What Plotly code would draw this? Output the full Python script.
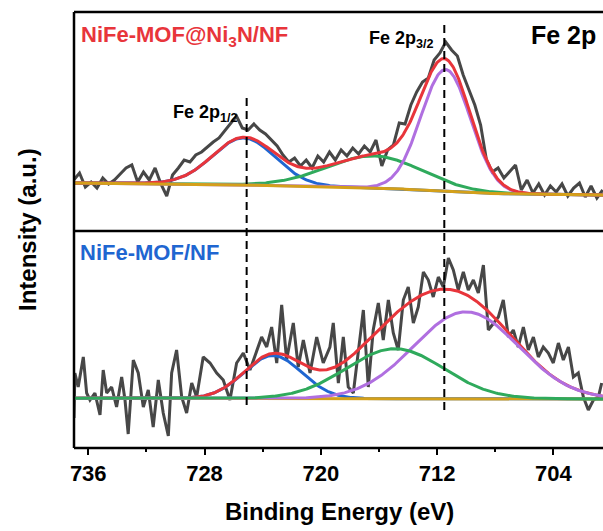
import numpy as np
import plotly.graph_objects as go

# ---------------- data ----------------
# Top panel: NiFe-MOF@Ni3N/NF  (intensity in a.u.)
top_energy = [737.0, 736.6, 736.2, 735.8, 735.4, 735.0, 734.6, 734.2, 733.8, 733.4,
              733.0, 732.6, 732.2, 731.8, 731.4, 731.0, 730.6, 730.2, 729.8, 729.4,
              729.0, 728.6, 728.2, 727.8, 727.4, 727.0, 726.6, 726.2, 725.8, 725.4,
              725.0, 724.6, 724.2, 723.8, 723.4, 723.0, 722.6, 722.2, 721.8, 721.4,
              721.0, 720.6, 720.2, 719.8, 719.4, 719.0, 718.6, 718.2, 717.8, 717.4,
              717.0, 716.6, 716.2, 715.8, 715.4, 715.0, 714.6, 714.2, 713.8, 713.4,
              713.0, 712.6, 712.2, 711.8, 711.4, 711.0, 710.6, 710.2, 709.8, 709.4,
              709.0, 708.6, 708.2, 707.8, 707.4, 707.0, 706.6, 706.2, 705.8, 705.4,
              705.0, 704.6, 704.2, 703.8, 703.4, 703.0, 702.6, 702.2, 701.8, 701.4,
              701.0, 700.6]
top_counts = [51, 58, 44, 49, 43, 53, 47, 51, 57, 63,
              66, 49, 59, 51, 63, 47, 35, 56, 63, 71,
              69, 76, 79, 84, 89, 93, 100, 107, 115, 103,
              101, 107, 101, 97, 91, 85, 76, 69, 73, 65,
              71, 63, 75, 69, 79, 71, 81, 75, 83, 77,
              85, 79, 91, 65, 81, 86, 108, 107, 126, 139,
              149, 153, 171, 178, 189, 181, 175, 156, 141, 126,
              106, 71, 59, 63, 53, 59, 66, 41, 51, 38,
              47, 36, 45, 39, 47, 35, 43, 48, 34, 45,
              33, 41]

# Bottom panel: NiFe-MOF/NF
bot_energy = [736.98, 736.92, 736.69, 736.34, 736.11, 735.88, 735.54, 735.19, 734.97, 734.73,
              734.39, 734.05, 733.70, 733.47, 733.25, 732.90, 732.56, 732.21, 731.87, 731.53,
              731.18, 730.84, 730.49, 730.26, 729.92, 729.57, 729.23, 728.88, 728.54, 728.09,
              727.62, 727.16, 726.71, 726.25, 725.79, 725.33, 724.87, 724.41, 724.07, 723.72,
              723.38, 723.03, 722.69, 722.35, 721.89, 721.55, 721.20, 720.74, 720.28, 719.83,
              719.37, 719.14, 718.79, 718.45, 718.11, 717.76, 717.42, 717.07, 716.73, 716.39,
              716.04, 715.70, 715.35, 715.01, 714.67, 714.32, 713.98, 713.63, 713.29, 712.94,
              712.60, 712.26, 711.91, 711.57, 711.22, 710.88, 710.54, 710.19, 709.85, 709.50,
              709.16, 708.81, 708.47, 708.13, 707.78, 707.44, 707.09, 706.75, 706.41, 706.06,
              705.72, 705.37, 705.03, 704.69, 704.34, 704.00, 703.65, 703.31, 702.96, 702.62,
              702.28, 701.93, 701.59, 701.24, 700.90, 700.67]
bot_counts = [30, 75, 61, 91, 55, 48, 55, 33, 78, 55,
              61, 41, 71, 48, 14, 88, 75, 41, 58, 21,
              68, 35, 12, 75, 98, 51, 35, 65, 51, 91,
              85, 75, 68, 48, 85, 95, 78, 98, 111, 101,
              121, 85, 143, 88, 125, 81, 108, 75, 111, 85,
              101, 125, 65, 111, 61, 55, 98, 138, 61, 118,
              145, 108, 148, 115, 98, 148, 161, 125, 141, 176,
              168, 151, 171, 161, 190, 178, 158, 176, 158, 168,
              155, 183, 118, 125, 131, 148, 111, 118, 101, 121,
              98, 111, 91, 101, 95, 85, 105, 88, 101, 71,
              75, 51, 38, 48, 51, 65]

# Fitted peak components: centre (eV), height (a.u.), sigma (eV)
peak_names = ["blue", "green", "purple"]
top_centers = [725.3, 716.3, 711.4]
top_heights = [47, 32, 122]
top_sigmas = [2.15, 3.3, 1.7]
bot_centers = [723.3, 714.9, 710.0]
bot_heights = [43, 50, 87]
bot_sigmas = [2.0, 3.35, 3.6]

# Background (Shirley-type) knots
top_bg_energy = [737.0, 730.0, 725.0, 720.0, 716.0, 713.0, 711.0, 709.0, 705.0, 700.5]
top_bg_counts = [48, 47.5, 46, 44.5, 43, 41, 39, 37.8, 36.7, 36]
bot_bg_energy = [737.0, 700.5]
bot_bg_counts = [49.7, 49.0]

marker_lines = [725.1, 711.5]
x_ticks = [736, 728, 720, 712, 704]
x_minor = [732, 724, 716, 708]

# ---------------- styling ----------------
C_RAW = "#474747"
C_RED = "#e8353b"
C_BLUE = "#1f66d1"
C_GREEN = "#2faa5c"
C_PURPLE = "#b06fe0"
C_GOLD = "#d4a01a"
comp_colors = {"blue": C_BLUE, "green": C_GREEN, "purple": C_PURPLE}
FONT = "Liberation Sans, Arial, sans-serif"

X0, X1 = 736.98, 700.58
grid = np.linspace(X1, X0, 600)[::-1]


def gauss(e, c, h, s):
    return h * np.exp(-(e - c) ** 2 / (2 * s ** 2))


fig = go.Figure()


def add_panel(xa, ya, e_raw, c_raw, centers, heights, sigmas, bg_e, bg_c, order):
    bg = np.interp(grid, bg_e[::-1], bg_c[::-1]) if bg_e[0] > bg_e[-1] else np.interp(grid, bg_e, bg_c)
    comps = {n: bg + gauss(grid, c, h, s) for n, c, h, s in zip(peak_names, centers, heights, sigmas)}
    total = bg + sum(gauss(grid, c, h, s) for c, h, s in zip(centers, heights, sigmas))
    fig.add_trace(go.Scatter(x=e_raw, y=c_raw, mode="lines", xaxis=xa, yaxis=ya,
                             line=dict(color=C_RAW, width=3), showlegend=False))
    for item in order:
        if item == "bg":
            fig.add_trace(go.Scatter(x=grid, y=bg, mode="lines", xaxis=xa, yaxis=ya,
                                     line=dict(color=C_GOLD, width=3), showlegend=False))
        elif item == "red":
            fig.add_trace(go.Scatter(x=grid, y=total, mode="lines", xaxis=xa, yaxis=ya,
                                     line=dict(color=C_RED, width=3), showlegend=False))
        else:
            fig.add_trace(go.Scatter(x=grid, y=comps[item], mode="lines", xaxis=xa, yaxis=ya,
                                     line=dict(color=comp_colors[item], width=3), showlegend=False))


add_panel("x2", "y2", top_energy, top_counts, top_centers, top_heights, top_sigmas,
          top_bg_energy, top_bg_counts, ["blue", "green", "purple", "red", "bg"])
add_panel("x", "y", bot_energy, bot_counts, bot_centers, bot_heights, bot_sigmas,
          bot_bg_energy, bot_bg_counts, ["blue", "bg", "red", "purple", "green"])

# layout geometry
H_TOP_PX, H_BOT_PX = 219, 217
split = H_BOT_PX / (H_TOP_PX + H_BOT_PX)
PLOT_H = 436.0
PLOT_W = 529.0


def py(p):
    return (448 - p) / PLOT_H


def px(p):
    return (p - 74) / PLOT_W


shapes = []
line_k = dict(color="black", width=2.5)
shapes.append(dict(type="line", xref="paper", yref="paper", x0=0, x1=0, y0=0, y1=1, line=line_k))
shapes.append(dict(type="line", xref="paper", yref="paper", x0=0, x1=1.01, y0=1, y1=1, line=line_k))
shapes.append(dict(type="line", xref="paper", yref="paper", x0=0, x1=1.01, y0=split, y1=split, line=line_k))
shapes.append(dict(type="line", xref="paper", yref="paper", x0=0, x1=1.01, y0=0, y1=0, line=line_k))
dash_spans = [(97, 405), (22, 410)]
for e, (a, b) in zip(marker_lines, dash_spans):
    shapes.append(dict(type="line", xref="x", yref="paper", x0=e, x1=e, y0=py(b), y1=py(a),
                       line=dict(color="black", width=2, dash="8px,5px")))

ann = []
bold = dict(family=FONT, weight="bold")
ann.append(dict(text="NiFe-MOF@Ni<sub>3</sub>N/NF", x=px(79), y=py(36), xref="paper", yref="paper",
                xanchor="left", yanchor="middle", showarrow=False,
                font=dict(size=22, color=C_RED, **bold)))
ann.append(dict(text="NiFe-MOF/NF", x=px(78), y=py(253), xref="paper", yref="paper",
                xanchor="left", yanchor="middle", showarrow=False,
                font=dict(size=22, color=C_BLUE, **bold)))
ann.append(dict(text="Fe 2p", x=px(598), y=py(35), xref="paper", yref="paper",
                xanchor="right", yanchor="middle", showarrow=False,
                font=dict(size=25, color="black", **bold)))
ann.append(dict(text="Fe 2p<sub>3/2</sub>", x=px(367), y=py(39), xref="paper", yref="paper",
                xanchor="left", yanchor="middle", showarrow=False,
                font=dict(size=18, color="black", **bold)))
ann.append(dict(text="Fe 2p<sub>1/2</sub>", x=px(171), y=py(113), xref="paper", yref="paper",
                xanchor="left", yanchor="middle", showarrow=False,
                font=dict(size=18, color="black", **bold)))
ann.append(dict(text="Intensity (a.u.)", x=px(27), y=0.5, xref="paper", yref="paper",
                xanchor="center", yanchor="middle", textangle=-90, showarrow=False,
                font=dict(size=24, color="black", **bold)))
ann.append(dict(text="Binding Energy (eV)", x=px(339), y=py(511), xref="paper", yref="paper",
                xanchor="center", yanchor="middle", showarrow=False,
                font=dict(size=24, color="black", **bold)))

fig.update_layout(
    width=603, height=531,
    margin=dict(l=74, r=0, t=12, b=83),
    paper_bgcolor="white", plot_bgcolor="white",
    showlegend=False,
    shapes=shapes, annotations=ann,
    xaxis=dict(domain=[0, 1], anchor="y", range=[X0, X1], tickvals=x_ticks,
               ticks="outside", ticklen=6, tickwidth=2, tickcolor="black",
               minor=dict(tickvals=x_minor, ticks="outside", ticklen=3, tickwidth=2, tickcolor="black"),
               showline=False, showgrid=False, zeroline=False,
               tickfont=dict(size=22, color="black", **bold)),
    xaxis2=dict(domain=[0, 1], anchor="y2", matches="x", range=[X0, X1], showticklabels=False,
                ticks="", showline=False, showgrid=False, zeroline=False),
    yaxis=dict(domain=[0, split], range=[0, H_BOT_PX], visible=False),
    yaxis2=dict(domain=[split, 1], range=[0, H_TOP_PX], visible=False),
)

fig.write_html("out.html", config={"displayModeBar": False},
               post_script="document.body.style.margin='0';document.body.style.overflow='hidden';")
